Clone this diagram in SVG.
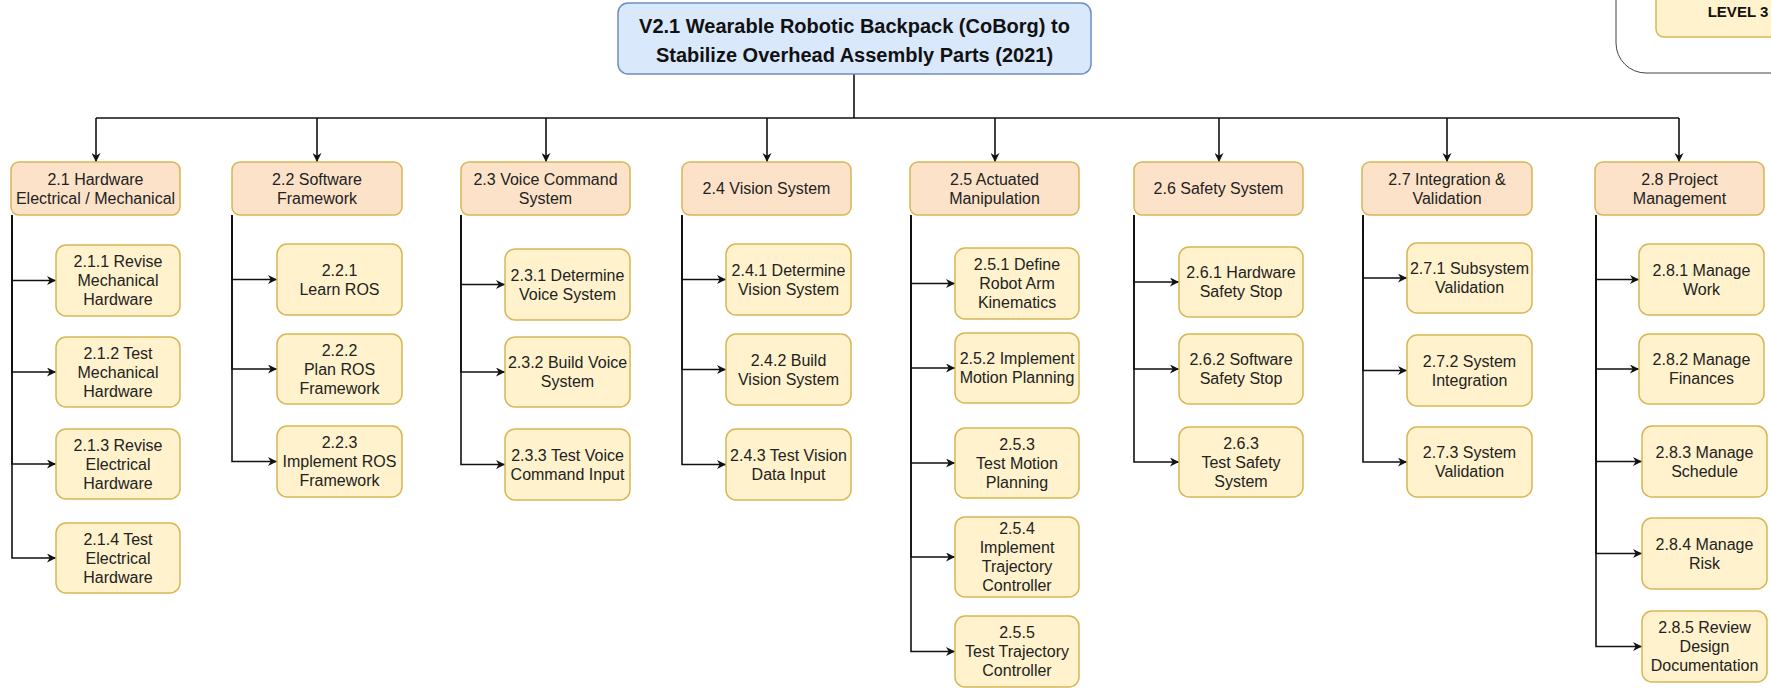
<svg xmlns="http://www.w3.org/2000/svg" width="1771" height="688" viewBox="0 0 1771 688">
<style>
.t{font-family:"Liberation Sans",Arial,sans-serif;font-size:16px;fill:#222;text-anchor:middle}
.tb{font-family:"Liberation Sans",Arial,sans-serif;font-weight:bold;fill:#111;text-anchor:middle}
.l1{fill:#fce2c9;stroke:#d6b656;stroke-width:1.5}
.l2{fill:#fff2cc;stroke:#d6b656;stroke-width:1.5}
.c{fill:none;stroke:#111;stroke-width:1.6}
</style>
<defs>
<marker id="arr" viewBox="0 0 10 10" refX="10" refY="5" markerWidth="9" markerHeight="9" orient="auto" markerUnits="userSpaceOnUse">
<path d="M0,0 L10,5 L0,10 L3,5 z" fill="#111"/>
</marker>
</defs>
<rect width="1771" height="688" fill="#fff"/>

<g id="legend">
<rect x="1616" y="-40" width="200" height="113" rx="30" fill="#fff" stroke="#444" stroke-width="1"/>
<rect x="1656" y="-20" width="140" height="57" rx="8" class="l2"/>
<text class="tb" x="1738" y="17" font-size="15">LEVEL 3</text>
</g>

<g id="connectors">
<path class="c" d="M854,74 V118"/>
<path class="c" d="M96,118 H1679"/>
<path class="c" d="M96,118 V162" marker-end="url(#arr)"/>
<path class="c" d="M317,118 V162" marker-end="url(#arr)"/>
<path class="c" d="M546,118 V162" marker-end="url(#arr)"/>
<path class="c" d="M767,118 V162" marker-end="url(#arr)"/>
<path class="c" d="M995,118 V162" marker-end="url(#arr)"/>
<path class="c" d="M1219,118 V162" marker-end="url(#arr)"/>
<path class="c" d="M1447,118 V162" marker-end="url(#arr)"/>
<path class="c" d="M1679,118 V162" marker-end="url(#arr)"/>

<path class="c" d="M12,215 V280.5 H56" marker-end="url(#arr)"/>
<path class="c" d="M12,215 V372 H56" marker-end="url(#arr)"/>
<path class="c" d="M12,215 V464 H56" marker-end="url(#arr)"/>
<path class="c" d="M12,215 V558 H56" marker-end="url(#arr)"/>

<path class="c" d="M232,215 V279.5 H277" marker-end="url(#arr)"/>
<path class="c" d="M232,215 V369 H277" marker-end="url(#arr)"/>
<path class="c" d="M232,215 V461.5 H277" marker-end="url(#arr)"/>

<path class="c" d="M461,215 V284.5 H505" marker-end="url(#arr)"/>
<path class="c" d="M461,215 V372 H505" marker-end="url(#arr)"/>
<path class="c" d="M461,215 V464.5 H505" marker-end="url(#arr)"/>

<path class="c" d="M682,215 V279.5 H726" marker-end="url(#arr)"/>
<path class="c" d="M682,215 V369.5 H726" marker-end="url(#arr)"/>
<path class="c" d="M682,215 V464.5 H726" marker-end="url(#arr)"/>

<path class="c" d="M911,215 V283.5 H955" marker-end="url(#arr)"/>
<path class="c" d="M911,215 V368 H955" marker-end="url(#arr)"/>
<path class="c" d="M911,215 V463 H955" marker-end="url(#arr)"/>
<path class="c" d="M911,215 V557 H955" marker-end="url(#arr)"/>
<path class="c" d="M911,215 V651.5 H955" marker-end="url(#arr)"/>

<path class="c" d="M1134,215 V282 H1179" marker-end="url(#arr)"/>
<path class="c" d="M1134,215 V369 H1179" marker-end="url(#arr)"/>
<path class="c" d="M1134,215 V462 H1179" marker-end="url(#arr)"/>

<path class="c" d="M1363,215 V278 H1407" marker-end="url(#arr)"/>
<path class="c" d="M1363,215 V370.5 H1407" marker-end="url(#arr)"/>
<path class="c" d="M1363,215 V462 H1407" marker-end="url(#arr)"/>

<path class="c" d="M1596,215 V279.5 H1639" marker-end="url(#arr)"/>
<path class="c" d="M1596,215 V369 H1639" marker-end="url(#arr)"/>
<path class="c" d="M1596,215 V461.5 H1642" marker-end="url(#arr)"/>
<path class="c" d="M1596,215 V553.5 H1642" marker-end="url(#arr)"/>
<path class="c" d="M1596,215 V646.5 H1642" marker-end="url(#arr)"/>
</g>

<g id="root">
<rect x="618" y="3" width="473" height="71" rx="10" fill="#dae8fc" stroke="#6c8ebf" stroke-width="1.5"/>
<text class="tb" font-size="20" x="854.5" y="33">V2.1 Wearable Robotic Backpack (CoBorg) to<tspan x="854.5" y="62">Stabilize Overhead Assembly Parts (2021)</tspan></text>
</g>

<g id="n2_1"><rect class="l1" x="11" y="162" width="169" height="53" rx="8"/><text class="t" x="95.5" y="184.5">2.1 Hardware<tspan x="95.5" dy="19">Electrical / Mechanical</tspan></text></g>
<g id="n2_2"><rect class="l1" x="232" y="162" width="170" height="53" rx="8"/><text class="t" x="317" y="184.5">2.2 Software<tspan x="317" dy="19">Framework</tspan></text></g>
<g id="n2_3"><rect class="l1" x="461" y="162" width="169" height="53" rx="8"/><text class="t" x="545.5" y="184.5">2.3 Voice Command<tspan x="545.5" dy="19">System</tspan></text></g>
<g id="n2_4"><rect class="l1" x="682" y="162" width="169" height="53" rx="8"/><text class="t" x="766.5" y="194">2.4 Vision System</text></g>
<g id="n2_5"><rect class="l1" x="910" y="162" width="169" height="53" rx="8"/><text class="t" x="994.5" y="184.5">2.5 Actuated<tspan x="994.5" dy="19">Manipulation</tspan></text></g>
<g id="n2_6"><rect class="l1" x="1134" y="162" width="169" height="53" rx="8"/><text class="t" x="1218.5" y="194">2.6 Safety System</text></g>
<g id="n2_7"><rect class="l1" x="1362" y="162" width="170" height="53" rx="8"/><text class="t" x="1447" y="184.5">2.7 Integration &amp;<tspan x="1447" dy="19">Validation</tspan></text></g>
<g id="n2_8"><rect class="l1" x="1595" y="162" width="169" height="53" rx="8"/><text class="t" x="1679.5" y="184.5">2.8 Project<tspan x="1679.5" dy="19">Management</tspan></text></g>

<g id="n2_1_1"><rect class="l2" x="56" y="245" width="124" height="71" rx="10"/><text class="t" x="118" y="267">2.1.1 Revise<tspan x="118" dy="19">Mechanical</tspan><tspan x="118" dy="19">Hardware</tspan></text></g>
<g id="n2_1_2"><rect class="l2" x="56" y="337" width="124" height="70" rx="10"/><text class="t" x="118" y="358.5">2.1.2 Test<tspan x="118" dy="19">Mechanical</tspan><tspan x="118" dy="19">Hardware</tspan></text></g>
<g id="n2_1_3"><rect class="l2" x="56" y="429" width="124" height="70" rx="10"/><text class="t" x="118" y="450.5">2.1.3 Revise<tspan x="118" dy="19">Electrical</tspan><tspan x="118" dy="19">Hardware</tspan></text></g>
<g id="n2_1_4"><rect class="l2" x="56" y="523" width="124" height="70" rx="10"/><text class="t" x="118" y="544.5">2.1.4 Test<tspan x="118" dy="19">Electrical</tspan><tspan x="118" dy="19">Hardware</tspan></text></g>

<g id="n2_2_1"><rect class="l2" x="277" y="244" width="125" height="71" rx="10"/><text class="t" x="339.5" y="275.5">2.2.1<tspan x="339.5" dy="19">Learn ROS</tspan></text></g>
<g id="n2_2_2"><rect class="l2" x="277" y="334" width="125" height="70" rx="10"/><text class="t" x="339.5" y="355.5">2.2.2<tspan x="339.5" dy="19">Plan ROS</tspan><tspan x="339.5" dy="19">Framework</tspan></text></g>
<g id="n2_2_3"><rect class="l2" x="277" y="426" width="125" height="71" rx="10"/><text class="t" x="339.5" y="448">2.2.3<tspan x="339.5" dy="19">Implement ROS</tspan><tspan x="339.5" dy="19">Framework</tspan></text></g>

<g id="n2_3_1"><rect class="l2" x="505" y="249" width="125" height="71" rx="10"/><text class="t" x="567.5" y="280.5">2.3.1 Determine<tspan x="567.5" dy="19">Voice System</tspan></text></g>
<g id="n2_3_2"><rect class="l2" x="505" y="337" width="125" height="70" rx="10"/><text class="t" x="567.5" y="368">2.3.2 Build Voice<tspan x="567.5" dy="19">System</tspan></text></g>
<g id="n2_3_3"><rect class="l2" x="505" y="429" width="125" height="71" rx="10"/><text class="t" x="567.5" y="460.5">2.3.3 Test Voice<tspan x="567.5" dy="19">Command Input</tspan></text></g>

<g id="n2_4_1"><rect class="l2" x="726" y="244" width="125" height="71" rx="10"/><text class="t" x="788.5" y="275.5">2.4.1 Determine<tspan x="788.5" dy="19">Vision System</tspan></text></g>
<g id="n2_4_2"><rect class="l2" x="726" y="334" width="125" height="71" rx="10"/><text class="t" x="788.5" y="365.5">2.4.2 Build<tspan x="788.5" dy="19">Vision System</tspan></text></g>
<g id="n2_4_3"><rect class="l2" x="726" y="429" width="125" height="71" rx="10"/><text class="t" x="788.5" y="460.5">2.4.3 Test Vision<tspan x="788.5" dy="19">Data Input</tspan></text></g>

<g id="n2_5_1"><rect class="l2" x="955" y="248" width="124" height="71" rx="10"/><text class="t" x="1017" y="270">2.5.1 Define<tspan x="1017" dy="19">Robot Arm</tspan><tspan x="1017" dy="19">Kinematics</tspan></text></g>
<g id="n2_5_2"><rect class="l2" x="955" y="333" width="124" height="70" rx="10"/><text class="t" x="1017" y="364">2.5.2 Implement<tspan x="1017" dy="19">Motion Planning</tspan></text></g>
<g id="n2_5_3"><rect class="l2" x="955" y="428" width="124" height="70" rx="10"/><text class="t" x="1017" y="449.5">2.5.3<tspan x="1017" dy="19">Test Motion</tspan><tspan x="1017" dy="19">Planning</tspan></text></g>
<g id="n2_5_4"><rect class="l2" x="955" y="517" width="124" height="80" rx="10"/><text class="t" x="1017" y="534">2.5.4<tspan x="1017" dy="19">Implement</tspan><tspan x="1017" dy="19">Trajectory</tspan><tspan x="1017" dy="19">Controller</tspan></text></g>
<g id="n2_5_5"><rect class="l2" x="955" y="616" width="124" height="71" rx="10"/><text class="t" x="1017" y="638">2.5.5<tspan x="1017" dy="19">Test Trajectory</tspan><tspan x="1017" dy="19">Controller</tspan></text></g>

<g id="n2_6_1"><rect class="l2" x="1179" y="247" width="124" height="70" rx="10"/><text class="t" x="1241" y="278">2.6.1 Hardware<tspan x="1241" dy="19">Safety Stop</tspan></text></g>
<g id="n2_6_2"><rect class="l2" x="1179" y="334" width="124" height="70" rx="10"/><text class="t" x="1241" y="365">2.6.2 Software<tspan x="1241" dy="19">Safety Stop</tspan></text></g>
<g id="n2_6_3"><rect class="l2" x="1179" y="427" width="124" height="70" rx="10"/><text class="t" x="1241" y="448.5">2.6.3<tspan x="1241" dy="19">Test Safety</tspan><tspan x="1241" dy="19">System</tspan></text></g>

<g id="n2_7_1"><rect class="l2" x="1407" y="243" width="125" height="70" rx="10"/><text class="t" x="1469.5" y="274">2.7.1 Subsystem<tspan x="1469.5" dy="19">Validation</tspan></text></g>
<g id="n2_7_2"><rect class="l2" x="1407" y="335" width="125" height="71" rx="10"/><text class="t" x="1469.5" y="366.5">2.7.2 System<tspan x="1469.5" dy="19">Integration</tspan></text></g>
<g id="n2_7_3"><rect class="l2" x="1407" y="427" width="125" height="70" rx="10"/><text class="t" x="1469.5" y="458">2.7.3 System<tspan x="1469.5" dy="19">Validation</tspan></text></g>

<g id="n2_8_1"><rect class="l2" x="1639" y="244" width="125" height="71" rx="10"/><text class="t" x="1701.5" y="275.5">2.8.1 Manage<tspan x="1701.5" dy="19">Work</tspan></text></g>
<g id="n2_8_2"><rect class="l2" x="1639" y="334" width="125" height="70" rx="10"/><text class="t" x="1701.5" y="365">2.8.2 Manage<tspan x="1701.5" dy="19">Finances</tspan></text></g>
<g id="n2_8_3"><rect class="l2" x="1642" y="426" width="125" height="71" rx="10"/><text class="t" x="1704.5" y="457.5">2.8.3 Manage<tspan x="1704.5" dy="19">Schedule</tspan></text></g>
<g id="n2_8_4"><rect class="l2" x="1642" y="518" width="125" height="71" rx="10"/><text class="t" x="1704.5" y="549.5">2.8.4 Manage<tspan x="1704.5" dy="19">Risk</tspan></text></g>
<g id="n2_8_5"><rect class="l2" x="1642" y="611" width="125" height="71" rx="10"/><text class="t" x="1704.5" y="633">2.8.5 Review<tspan x="1704.5" dy="19">Design</tspan><tspan x="1704.5" dy="19">Documentation</tspan></text></g>
</svg>
